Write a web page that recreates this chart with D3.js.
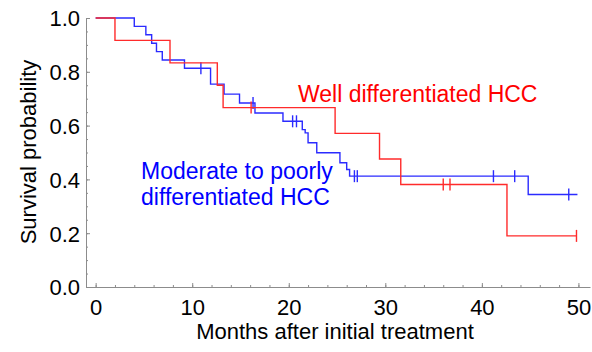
<!DOCTYPE html>
<html>
<head>
<meta charset="utf-8">
<script src="https://cdn.jsdelivr.net/npm/d3@7"></script>
<style>
  body { margin: 0; background: #fff; }
  text { font-family: "Liberation Sans", Arial, sans-serif; }
</style>
</head>
<body>
<div id="chart"></div>
<script>
// Kaplan-Meier steps (months, survival after the drop)
const redTimes = [0, 2.0, 7.7, 12.6, 13.2, 24.8, 29.4, 31.6, 42.6];
const redSurv = [1, 0.917, 0.833, 0.75, 0.667, 0.571, 0.476, 0.381, 0.190];
const redCensor = [16.1, 36.0, 36.7, 49.8];
const redEnd = 49.8;

const blueTimes = [0, 4.0, 5.2, 5.8, 6.3, 6.9, 9.2, 11.9, 13.3, 14.9, 16.5, 19.4, 21.4, 21.7, 22.0, 22.9, 25.3, 26.0, 26.3, 44.8];
const blueSurv = [1, 0.969, 0.938, 0.906, 0.875, 0.844, 0.813, 0.754, 0.717, 0.684, 0.647, 0.616, 0.585, 0.573, 0.536, 0.499, 0.462, 0.437, 0.412, 0.344];
const blueCensor = [10.9, 16.3, 20.4, 20.8, 26.8, 27.1, 41.2, 43.4, 49.0];
const blueEnd = 49.9;

const xMajor = [0, 10, 20, 30, 40, 50];
const xMinor = d3.range(0, 51, 2);
const yMajor = [0, 0.2, 0.4, 0.6, 0.8, 1.0];
const yMinor = d3.range(0, 1.001, 0.05);

let width = 592;
let height = 352;

let svg = d3.select('#chart')
    .append('svg')
    .attr('width', width)
    .attr('height', height);

let x = d3.scaleLinear().domain([-1, 51.2]).range([86, 590]);
let y = d3.scaleLinear().domain([0, 1]).range([287, 18]);

const axisColor = '#8c8c8c';

// minor ticks
svg.append('g')
    .attr('transform', `translate(0,${y(0)})`)
    .call(d3.axisBottom(x).tickValues(xMinor).tickFormat('').tickSizeInner(-2).tickSizeOuter(0))
    .call(g => g.select('.domain').remove())
    .call(g => g.selectAll('line').attr('stroke', axisColor));
svg.append('g')
    .attr('transform', `translate(${x(-1)},0)`)
    .call(d3.axisLeft(y).tickValues(yMinor).tickFormat('').tickSizeInner(-2).tickSizeOuter(0))
    .call(g => g.select('.domain').remove())
    .call(g => g.selectAll('line').attr('stroke', axisColor));

// major ticks + labels
let xAxisGroup = svg.append('g')
    .attr('transform', `translate(0,${y(0)})`)
    .call(d3.axisBottom(x).tickValues(xMajor).tickFormat(d3.format('d')).tickSizeInner(-4).tickSizeOuter(0).tickPadding(12));
let yAxisGroup = svg.append('g')
    .attr('transform', `translate(${x(-1)},0)`)
    .call(d3.axisLeft(y).tickValues(yMajor).tickFormat(d3.format('.1f')).tickSizeInner(-4).tickSizeOuter(0).tickPadding(6));

[xAxisGroup, yAxisGroup].forEach(g => {
    g.attr('font-family', null).attr('font-size', null);
    g.select('.domain').attr('stroke', axisColor);
    g.selectAll('line').attr('stroke', axisColor);
    g.selectAll('text').attr('fill', '#000').style('font-size', '22px');
});
yAxisGroup.selectAll('text').attr('dy', '0.36em');

// step curve builder
function stepPoints(times, surv, end) {
    let pts = [];
    times.forEach((t, i) => {
        if (i > 0) pts.push([t, surv[i - 1]]);
        pts.push([t, surv[i]]);
    });
    pts.push([end, surv[surv.length - 1]]);
    return pts;
}
function survAt(times, surv, t) {
    let s = surv[0];
    times.forEach((tt, i) => { if (tt <= t) s = surv[i]; });
    return s;
}

let line = d3.line()
    .x(d => x(d[0]))
    .y(d => y(d[1]));

let series = [
    { times: blueTimes, surv: blueSurv, censor: blueCensor, end: blueEnd, color: '#2b2bff' },
    { times: redTimes, surv: redSurv, censor: redCensor, end: redEnd, color: '#ff2b2b' }
];

series.forEach(s => {
    let g = svg.append('g').classed('series', true);
    g.append('path')
        .attr('d', line(stepPoints(s.times, s.surv, s.end)))
        .attr('fill', 'none')
        .attr('stroke', s.color)
        .attr('stroke-width', 1.4);
    g.selectAll('line.censor')
        .data(s.censor)
        .enter()
        .append('line')
        .classed('censor', true)
        .attr('x1', d => x(d))
        .attr('x2', d => x(d))
        .attr('y1', d => y(survAt(s.times, s.surv, d)) - 6)
        .attr('y2', d => y(survAt(s.times, s.surv, d)) + 6)
        .attr('stroke', s.color)
        .attr('stroke-width', 1.4);
});

// labels
svg.append('text')
    .attr('x', 298)
    .attr('y', 102)
    .attr('fill', '#ff0000')
    .style('font-size', '23px')
    .text('Well differentiated HCC');

let blueLabel = svg.append('text')
    .attr('fill', '#0000ff')
    .style('font-size', '23px');
blueLabel.append('tspan').attr('x', 141).attr('y', 179).text('Moderate to poorly');
blueLabel.append('tspan').attr('x', 141).attr('y', 205).text('differentiated HCC');

svg.append('text')
    .attr('x', 335)
    .attr('y', 339)
    .attr('text-anchor', 'middle')
    .style('font-size', '22px')
    .text('Months after initial treatment');

svg.append('text')
    .attr('transform', 'translate(36,152) rotate(-90)')
    .attr('text-anchor', 'middle')
    .style('font-size', '22px')
    .text('Survival probability');
</script>
</body>
</html>
